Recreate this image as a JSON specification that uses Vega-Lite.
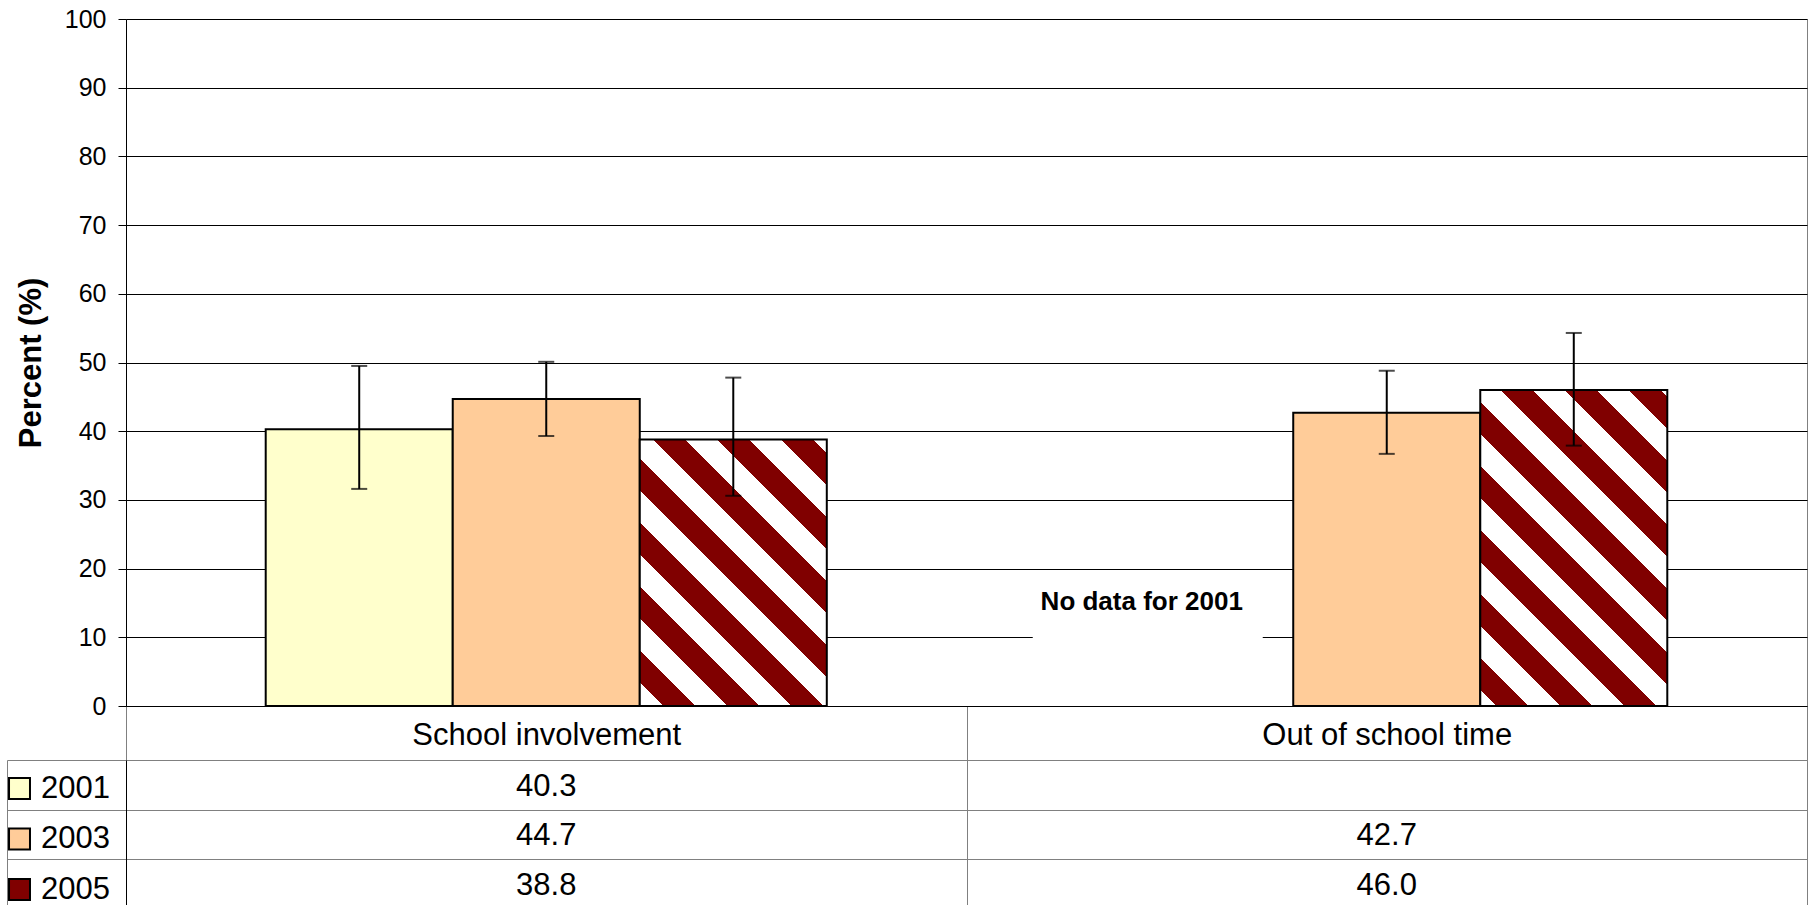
{
  "$schema": "https://vega.github.io/schema/vega-lite/v6.json",
  "background": "white",
  "padding": {"left": 3, "top": 6, "right": 0, "bottom": 0},
  "bounds": "flush",
  "spacing": 54,
  "config": {
    "font": "Liberation Sans",
    "axis": {"labelFont": "Liberation Sans", "titleFont": "Liberation Sans"},
    "legend": {"labelFont": "Liberation Sans"}
  },
  "datasets": {
    "bars": [
      {"category": "School involvement", "year": "2001", "value": 40.3, "lo": 31.6, "hi": 49.5},
      {"category": "School involvement", "year": "2003", "value": 44.7, "lo": 39.3, "hi": 50.1},
      {"category": "School involvement", "year": "2005", "value": 38.8, "lo": 30.6, "hi": 47.8},
      {"category": "Out of school time", "year": "2003", "value": 42.7, "lo": 36.7, "hi": 48.8},
      {"category": "Out of school time", "year": "2005", "value": 46.0, "lo": 37.9, "hi": 54.3}
    ],
    "note": [
      {"category": "Out of school time", "y": 15.2, "ylo": 7.8, "yhi": 17.3, "label": "No data for 2001"}
    ]
  },
  "resolve": {"scale": {"color": "independent"}, "legend": {"color": "independent"}},
  "vconcat": [
    {
      "width": 1681,
      "height": 687,
      "view": {"stroke": "#808080", "strokeWidth": 1},
      "data": {"name": "bars"},
      "encoding": {
        "x": {
          "field": "category", "type": "nominal",
          "scale": {"domain": ["School involvement", "Out of school time"], "paddingInner": 0, "paddingOuter": 0},
          "axis": {
            "title": null, "labelAngle": 0, "labelFontSize": 31, "labelColor": "black", "labelLimit": 1000,
            "labelBaseline": "top", "labelPadding": -40, "tickBand": "extent", "tickSize": 54,
            "tickColor": "#808080", "tickWidth": 1, "domainColor": "black", "domainWidth": 1, "grid": false
          }
        }
      },
      "layer": [
        {
          "data": {"name": "note"},
          "mark": {"type": "bar", "fill": "white", "width": 230, "xOffset": -239},
          "encoding": {
            "y": {
              "field": "ylo", "type": "quantitative", "title": "Percent (%)",
              "scale": {"domain": [0, 100], "nice": false},
              "axis": {
                "values": [0, 10, 20, 30, 40, 50, 60, 70, 80, 90, 100],
                "labelFontSize": 25, "labelColor": "black", "labelPadding": 12,
                "tickSize": 8, "tickColor": "black", "domainColor": "black",
                "grid": true, "gridColor": "black", "gridOpacity": 1, "gridWidth": 1,
                "titleFontSize": 31, "titleFontWeight": "bold", "titleColor": "black", "titlePadding": 17
              }
            },
            "y2": {"field": "yhi"}
          }
        },
        {
          "data": {"name": "note"},
          "mark": {"type": "text", "fontSize": 26, "fontWeight": "bold", "color": "black", "dx": -245, "baseline": "middle"},
          "encoding": {
            "y": {"field": "y", "type": "quantitative", "title": "Percent (%)"},
            "text": {"field": "label"}
          }
        },
        {
          "transform": [{"filter": "datum.year != '2005'"}],
          "mark": {"type": "bar", "stroke": "black", "strokeWidth": 2},
          "encoding": {
            "xOffset": {
              "field": "year", "type": "nominal",
              "scale": {"domain": ["2001", "2003", "2005"], "paddingInner": 0, "paddingOuter": 0.747}
            },
            "y": {"field": "value", "type": "quantitative", "title": "Percent (%)"},
            "color": {
              "field": "year", "type": "nominal",
              "scale": {"domain": ["2001", "2003", "2005"], "range": ["#FFFFCC", "#FFCC99", "#800000"]},
              "legend": null
            }
          }
        },
        {
          "transform": [{"filter": "datum.year == '2005' && datum.category == 'School involvement'"}],
          "mark": {
            "type": "bar", "stroke": "black", "strokeWidth": 2,
            "fill": {
              "gradient": "linear", "x1": 0, "y1": 1, "x2": 0.7998, "y2": -0.1403,
              "stops": [
                {"offset": 0, "color": "white"}, {"offset": 0.0525, "color": "white"},
                {"offset": 0.0525, "color": "#800000"}, {"offset": 0.123, "color": "#800000"},
                {"offset": 0.123, "color": "white"}, {"offset": 0.1936, "color": "white"},
                {"offset": 0.1936, "color": "#800000"}, {"offset": 0.2641, "color": "#800000"},
                {"offset": 0.2641, "color": "white"}, {"offset": 0.3347, "color": "white"},
                {"offset": 0.3347, "color": "#800000"}, {"offset": 0.4052, "color": "#800000"},
                {"offset": 0.4052, "color": "white"}, {"offset": 0.4757, "color": "white"},
                {"offset": 0.4757, "color": "#800000"}, {"offset": 0.5463, "color": "#800000"},
                {"offset": 0.5463, "color": "white"}, {"offset": 0.6168, "color": "white"},
                {"offset": 0.6168, "color": "#800000"}, {"offset": 0.6874, "color": "#800000"},
                {"offset": 0.6874, "color": "white"}, {"offset": 0.7579, "color": "white"},
                {"offset": 0.7579, "color": "#800000"}, {"offset": 0.8285, "color": "#800000"},
                {"offset": 0.8285, "color": "white"}, {"offset": 0.899, "color": "white"},
                {"offset": 0.899, "color": "#800000"}, {"offset": 0.9696, "color": "#800000"},
                {"offset": 0.9696, "color": "white"}, {"offset": 1, "color": "white"}
              ]
            }
          },
          "encoding": {
            "xOffset": {"field": "year", "type": "nominal"},
            "y": {"field": "value", "type": "quantitative", "title": "Percent (%)"}
          }
        },
        {
          "transform": [{"filter": "datum.year == '2005' && datum.category == 'Out of school time'"}],
          "mark": {
            "type": "bar", "stroke": "black", "strokeWidth": 2,
            "fill": {
              "gradient": "linear", "x1": 0, "y1": 1, "x2": 0.6976, "y2": -0.1789,
              "stops": [
                {"offset": 0, "color": "white"}, {"offset": 0.0314, "color": "white"},
                {"offset": 0.0314, "color": "#800000"}, {"offset": 0.095, "color": "#800000"},
                {"offset": 0.095, "color": "white"}, {"offset": 0.1586, "color": "white"},
                {"offset": 0.1586, "color": "#800000"}, {"offset": 0.2223, "color": "#800000"},
                {"offset": 0.2223, "color": "white"}, {"offset": 0.2859, "color": "white"},
                {"offset": 0.2859, "color": "#800000"}, {"offset": 0.3495, "color": "#800000"},
                {"offset": 0.3495, "color": "white"}, {"offset": 0.4131, "color": "white"},
                {"offset": 0.4131, "color": "#800000"}, {"offset": 0.4767, "color": "#800000"},
                {"offset": 0.4767, "color": "white"}, {"offset": 0.5404, "color": "white"},
                {"offset": 0.5404, "color": "#800000"}, {"offset": 0.604, "color": "#800000"},
                {"offset": 0.604, "color": "white"}, {"offset": 0.6676, "color": "white"},
                {"offset": 0.6676, "color": "#800000"}, {"offset": 0.7312, "color": "#800000"},
                {"offset": 0.7312, "color": "white"}, {"offset": 0.7948, "color": "white"},
                {"offset": 0.7948, "color": "#800000"}, {"offset": 0.8584, "color": "#800000"},
                {"offset": 0.8584, "color": "white"}, {"offset": 0.9221, "color": "white"},
                {"offset": 0.9221, "color": "#800000"}, {"offset": 0.9857, "color": "#800000"},
                {"offset": 0.9857, "color": "white"}, {"offset": 1, "color": "white"}
              ]
            }
          },
          "encoding": {
            "xOffset": {"field": "year", "type": "nominal"},
            "y": {"field": "value", "type": "quantitative", "title": "Percent (%)"}
          }
        },
        {
          "mark": {"type": "rule", "color": "black", "strokeWidth": 2},
          "encoding": {
            "xOffset": {"field": "year", "type": "nominal"},
            "y": {"field": "lo", "type": "quantitative", "title": "Percent (%)"},
            "y2": {"field": "hi"}
          }
        },
        {
          "mark": {"type": "tick", "orient": "horizontal", "size": 16, "thickness": 2, "color": "black"},
          "encoding": {
            "xOffset": {"field": "year", "type": "nominal"},
            "y": {"field": "lo", "type": "quantitative", "title": "Percent (%)"}
          }
        },
        {
          "mark": {"type": "tick", "orient": "horizontal", "size": 16, "thickness": 2, "color": "black"},
          "encoding": {
            "xOffset": {"field": "year", "type": "nominal"},
            "y": {"field": "hi", "type": "quantitative", "title": "Percent (%)"}
          }
        }
      ]
    },
    {
      "width": 1681,
      "height": 148.5,
      "view": {"stroke": "#808080", "strokeWidth": 1},
      "data": {"name": "bars"},
      "encoding": {
        "x": {
          "field": "category", "type": "nominal",
          "scale": {"domain": ["School involvement", "Out of school time"], "paddingInner": 0, "paddingOuter": 0},
          "axis": {
            "title": null, "labels": false, "ticks": false, "domain": false,
            "grid": true, "tickBand": "extent", "gridColor": "#808080", "gridOpacity": 1, "gridWidth": 1
          }
        }
      },
      "layer": [
        {
          "mark": {"type": "text", "fontSize": 31, "color": "black", "baseline": "middle", "dy": 2},
          "encoding": {
            "y": {
              "field": "year", "type": "nominal",
              "scale": {"domain": ["2001", "2003", "2005"], "paddingInner": 0, "paddingOuter": 0},
              "axis": {
                "title": null, "labels": false, "domain": true, "domainColor": "black",
                "ticks": true, "tickBand": "extent", "tickSize": 119, "tickColor": "#808080",
                "grid": true, "gridColor": "#808080", "gridOpacity": 1
              }
            },
            "text": {"field": "value", "type": "quantitative", "format": ".1f"}
          }
        },
        {
          "mark": {"type": "square", "opacity": 0, "filled": true, "stroke": "black", "strokeWidth": 2},
          "encoding": {
            "y": {
              "field": "year", "type": "nominal",
              "scale": {"domain": ["2001", "2003", "2005"], "paddingInner": 0, "paddingOuter": 0},
              "axis": {
                "orient": "left", "offset": 119, "title": null, "labels": false, "ticks": false,
                "grid": false, "domain": true, "domainColor": "#808080"
              }
            },
            "color": {
              "field": "year", "type": "nominal",
              "scale": {"domain": ["2001", "2003", "2005"], "range": ["#FFFFCC", "#FFCC99", "#800000"]},
              "legend": {
                "orient": "none", "legendX": -122, "legendY": 13, "title": null, "direction": "vertical",
                "padding": 0, "symbolType": "square", "symbolSize": 440, "symbolStrokeColor": "black",
                "symbolStrokeWidth": 2, "symbolOpacity": 1, "labelFontSize": 31, "labelColor": "black",
                "labelOffset": 6, "rowPadding": 18.5
              }
            }
          }
        }
      ],
      "resolve": {"scale": {"y": "independent"}}
    }
  ]
}
